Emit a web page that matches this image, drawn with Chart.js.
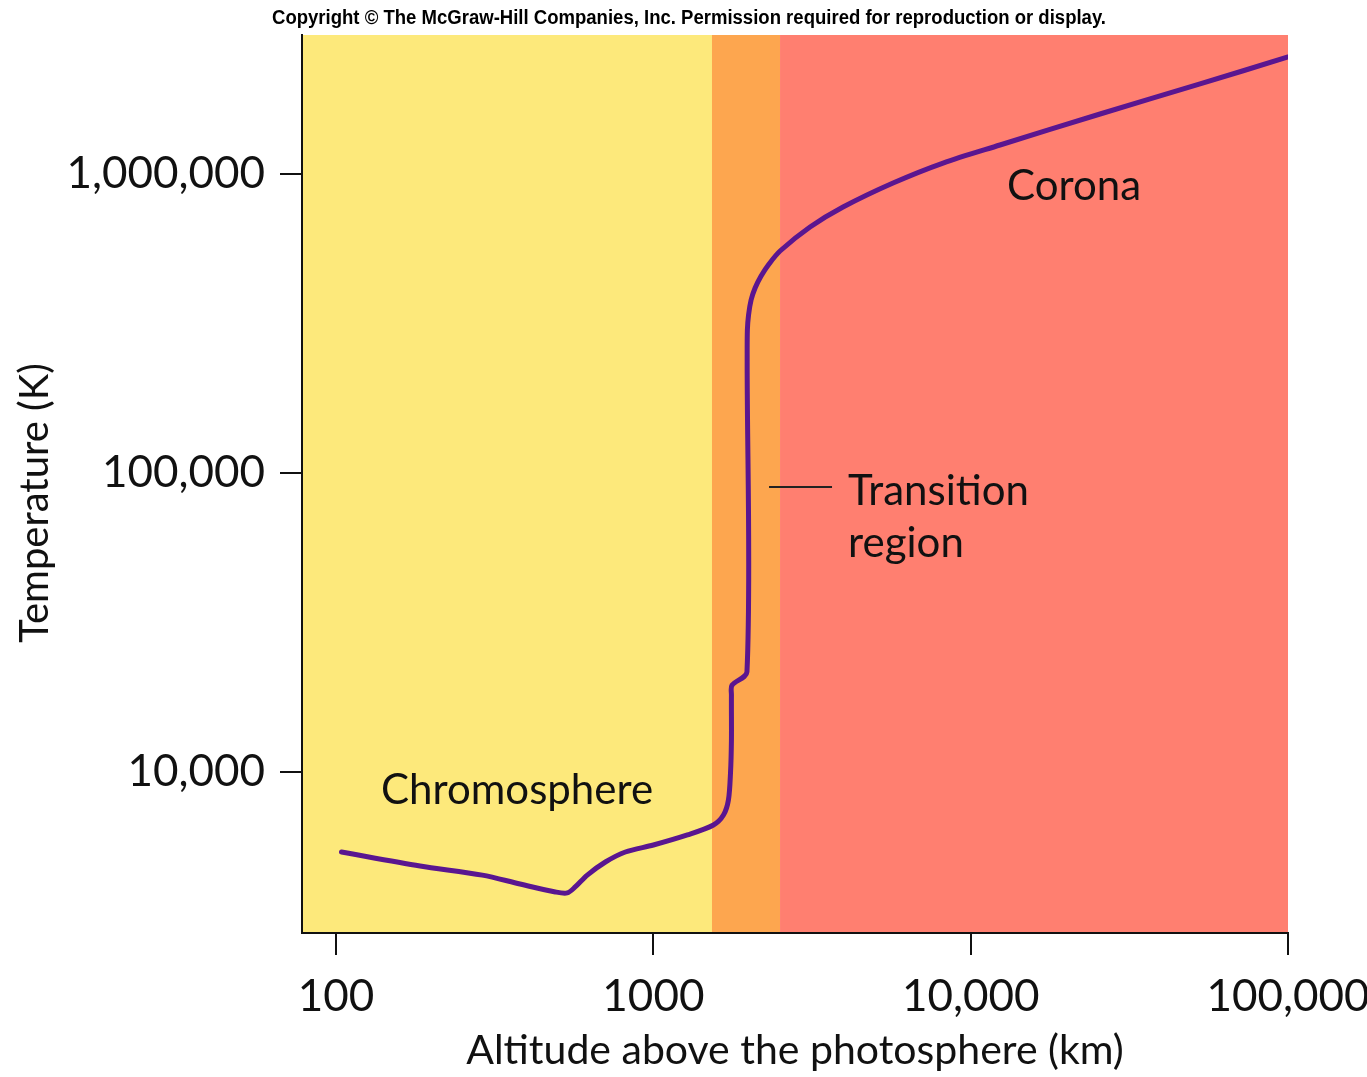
<!DOCTYPE html>
<html>
<head>
<meta charset="utf-8">
<title>Temperature in the solar atmosphere</title>
<script src="https://cdn.jsdelivr.net/npm/chart.js@4.4.1/dist/chart.umd.min.js"></script>
<style>
  html, body { margin: 0; padding: 0; background: #fff; }
  #wrap { width: 1367px; height: 1077px; position: relative; }
</style>
</head>
<body>
<div id="wrap"><canvas id="chart"></canvas></div>
<script>
// altitude above the photosphere (km) and temperature (K)
const altitude = [
  104, 184, 289, 380, 491, 535, 567, 619, 706, 816, 1000, 1280, 1546,
  1663, 1724, 1750, 1762, 1762, 1769, 1972, 1975, 1978, 1995, 2032, 2092,
  2185, 2315, 2507, 3117, 3960, 5692, 8183, 12370, 25570, 52820, 100000
];
const temperature = [
  5400, 4850, 4520, 4220, 3970, 3940, 4125, 4520, 5000, 5400, 5700, 6160, 6650,
  7180, 8060, 9920, 12800, 18090, 19500, 21600, 238700, 300800, 337700, 378900, 415600,
  455900, 500000, 552600, 664700, 775500, 933000, 1088000, 1250000, 1587000, 2000000, 2462000
];

const xTicks = [100, 1000, 10000, 100000];
const xTickLabels = ["100", "1000", "10,000", "100,000"];
const yTicks = [10000, 100000, 1000000];
const yTickLabels = ["10,000", "100,000", "1,000,000"];

// layers of the atmosphere as altitude ranges (km)
const regionNames = ["Chromosphere", "Transition region", "Corona"];
const regionStart = [78, 1530, 2507];
const regionEnd = [1530, 2507, 100000];
const regionColors = ["#fde97b", "#fda64f", "#ff7f70"];

const FONT = "Lato, 'Open Sans', sans-serif";

// text labels, anchored in data units (left edge, baseline)
const notes = [
  { text: "Chromosphere", x: 138.6, y: 7815 },
  { text: "Corona", x: 13020, y: 818500 },
  { text: "Transition", x: 4107, y: 78150 },
  { text: "region", x: 4107, y: 52360 }
];
const leader = { x1: 2315, x2: 3656, y: 89800 };
const yTitle = { text: "Temperature (K)", y: 79400 };

const regionPlugin = {
  id: "regions",
  beforeDraw(chart) {
    const { ctx, chartArea, scales: { x } } = chart;
    ctx.save();
    regionStart.forEach((start, i) => {
      const left = Math.max(x.getPixelForValue(start), chartArea.left);
      const right = Math.min(x.getPixelForValue(regionEnd[i]), chartArea.right);
      ctx.fillStyle = regionColors[i];
      ctx.fillRect(left, chartArea.top, right - left, chartArea.bottom - chartArea.top);
    });
    ctx.restore();
  },
  afterDraw(chart) {
    const { ctx, scales: { x, y } } = chart;
    ctx.save();
    ctx.fillStyle = "#111";
    ctx.font = "42px " + FONT;
    ctx.textAlign = "left";
    ctx.textBaseline = "alphabetic";
    notes.forEach(n => {
      ctx.fillText(n.text, x.getPixelForValue(n.x), y.getPixelForValue(n.y));
    });

    ctx.strokeStyle = "#222";
    ctx.lineWidth = 2;
    ctx.beginPath();
    const ly = y.getPixelForValue(leader.y);
    ctx.moveTo(x.getPixelForValue(leader.x1), ly);
    ctx.lineTo(x.getPixelForValue(leader.x2), ly);
    ctx.stroke();

    // vertical axis title, sitting a little below the middle as in the original
    ctx.save();
    ctx.font = "40px " + FONT;
    ctx.translate(35, y.getPixelForValue(yTitle.y));
    ctx.rotate(-Math.PI / 2);
    ctx.textAlign = "center";
    ctx.textBaseline = "middle";
    ctx.fillText(yTitle.text, 0, 0);
    ctx.restore();

    // copyright line, squeezed to the condensed width of the original
    const note = "Copyright \u00a9 The McGraw-Hill Companies, Inc. Permission required for reproduction or display.";
    ctx.font = "bold 20px 'Liberation Sans Narrow', 'Liberation Sans', Arial, sans-serif";
    const w = ctx.measureText(note).width;
    ctx.translate(689, 24);
    ctx.scale(834 / w, 1);
    ctx.textAlign = "center";
    ctx.fillStyle = "#000";
    ctx.fillText(note, 0, 0);
    ctx.restore();
  }
};

new Chart(document.getElementById("chart"), {
  type: "line",
  data: {
    datasets: [{
      label: "Temperature",
      data: altitude.map((a, i) => ({ x: a, y: temperature[i] })),
      borderColor: "#5a1690",
      borderWidth: 5,
      pointRadius: 0,
      tension: 0.3,
      borderJoinStyle: "round",
      borderCapStyle: "round",
      fill: false
    }]
  },
  options: {
    responsive: true,
    maintainAspectRatio: false,
    animation: false,
    layout: { padding: { top: 35, right: 79, left: 0, bottom: 0 } },
    plugins: {
      legend: { display: false },
      tooltip: { enabled: false },
      title: { display: false }
    },
    scales: {
      x: {
        type: "logarithmic",
        min: 78.1,
        max: 100000,
        afterBuildTicks: s => { s.ticks = xTicks.map(v => ({ value: v })); },
        afterFit: s => { s.height = 144; s.paddingLeft = 0; s.paddingRight = 0; },
        ticks: {
          callback: (v) => xTickLabels[xTicks.indexOf(v)],
          color: "#111",
          font: { family: FONT, size: 44 },
          padding: 15,
          maxRotation: 0,
          autoSkip: false
        },
        grid: { drawOnChartArea: false, drawTicks: true, tickLength: 22, color: "#111", lineWidth: 2 },
        border: { display: true, color: "#111", width: 2 },
        title: {
          display: true,
          text: "Altitude above the photosphere (km)",
          color: "#111",
          font: { family: FONT, size: 41 },
          padding: { top: 0, bottom: 2 }
        }
      },
      y: {
        type: "logarithmic",
        min: 2894,
        max: 2916000,
        afterBuildTicks: s => { s.ticks = yTicks.map(v => ({ value: v })); },
        afterFit: s => { s.width = 302; s.paddingTop = 0; s.paddingBottom = 0; },
        ticks: {
          callback: (v) => yTickLabels[yTicks.indexOf(v)],
          color: "#111",
          font: { family: FONT, size: 44 },
          padding: 15,
          autoSkip: false
        },
        grid: { drawOnChartArea: false, drawTicks: true, tickLength: 22, color: "#111", lineWidth: 2 },
        border: { display: true, color: "#111", width: 2 },
        title: { display: false }
      }
    }
  },
  plugins: [regionPlugin]
});
</script>
</body>
</html>
